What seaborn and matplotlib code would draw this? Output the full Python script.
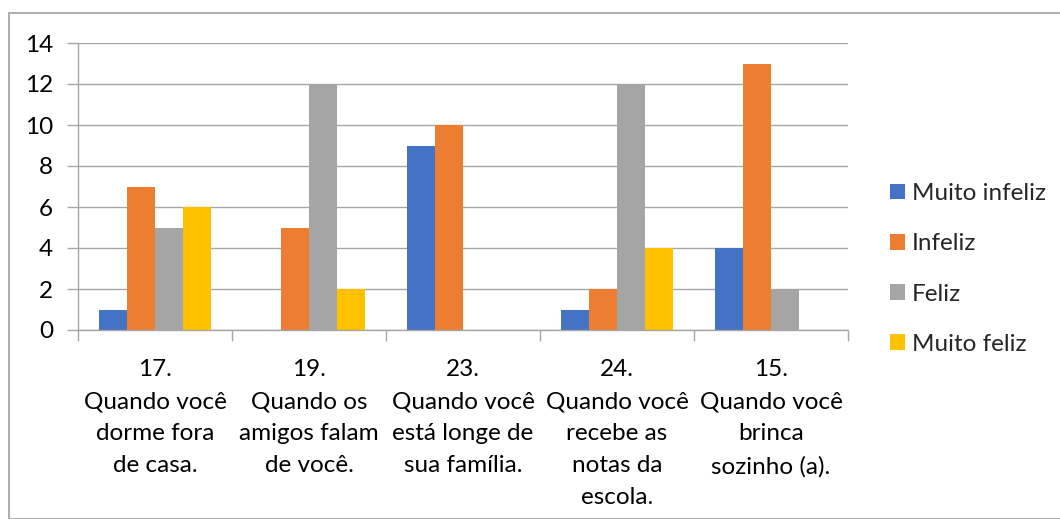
import seaborn as sns
import matplotlib.pyplot as plt
import pandas as pd
from matplotlib.patches import Rectangle

# data
categories = [
    "17.\nQuando você\ndorme fora\nde casa.",
    "19.\nQuando os\namigos falam\nde você.",
    "23.\nQuando você\nestá longe de\nsua família.",
    "24.\nQuando você\nrecebe as\nnotas da\nescola.",
    "15.\nQuando você\nbrinca\nsozinho (a).",
]
series = ["Muito infeliz", "Infeliz", "Feliz", "Muito feliz"]
muito_infeliz = [1, 0, 9, 1, 4]
infeliz = [7, 5, 10, 2, 13]
feliz = [5, 12, 0, 12, 2]
muito_feliz = [6, 2, 0, 4, 0]
colors = ["#4472C4", "#ED7D31", "#A5A5A5", "#FFC000"]
yticks = [0, 2, 4, 6, 8, 10, 12, 14]

rows = []
for name, vals in zip(series, [muito_infeliz, infeliz, feliz, muito_feliz]):
    for cat, v in zip(categories, vals):
        rows.append({"cat": cat, "serie": name, "valor": v})
df = pd.DataFrame(rows)

sns.set_theme(style="white")
plt.rcParams["font.family"] = ["Lato", "DejaVu Sans"]
fs = 17.5

fig = plt.figure(figsize=(10.6, 5.19), dpi=100)
ax = fig.add_axes([78 / 1060, 1 - 330 / 519, 770 / 1060, 287 / 519])

sns.barplot(data=df, x="cat", y="valor", hue="serie", palette=colors,
            width=0.727, saturation=1, ax=ax, legend=True)
for p in ax.patches:
    p.set_edgecolor("none")

ax.set_ylim(0, 14)
ax.set_xlim(-0.5, 4.5)
ax.set_yticks(yticks)
ax.yaxis.grid(True, color="#A6A6A6", linewidth=1)
ax.set_axisbelow(True)
ax.set_xlabel("")
ax.set_ylabel("")

for s in ["top", "right"]:
    ax.spines[s].set_visible(False)
for s in ["left", "bottom"]:
    ax.spines[s].set_color("#A6A6A6")
    ax.spines[s].set_linewidth(1)

ax.tick_params(axis="y", length=8, color="#A6A6A6", width=1, labelsize=fs,
               pad=10, labelcolor="black", left=True)
ax.set_xticks(range(5))
ax.set_xticklabels(categories, fontsize=fs, linespacing=1.65)
ax.tick_params(axis="x", which="major", length=0, pad=21, labelcolor="black")
ax.set_xticks([-0.5, 0.5, 1.5, 2.5, 3.5, 4.5], minor=True)
ax.tick_params(axis="x", which="minor", length=8, color="#A6A6A6", width=1,
               bottom=True)

h, l = ax.get_legend_handles_labels()
ax.get_legend().remove()
fig.legend(h, l, loc="center left", bbox_to_anchor=(890 / 1060, 1 - 269 / 519),
           frameon=False, fontsize=fs, handlelength=0.6, handleheight=0.6,
           handletextpad=0.3, labelspacing=1.2, borderpad=0, borderaxespad=0)

# outer chart frame
fig.patches.append(Rectangle((9 / 1060, 0), 1.2, 1 - 13 / 519,
                             transform=fig.transFigure, fill=False,
                             edgecolor="#A0A0A0", linewidth=1.2))

fig.savefig("out.png", dpi=100)
